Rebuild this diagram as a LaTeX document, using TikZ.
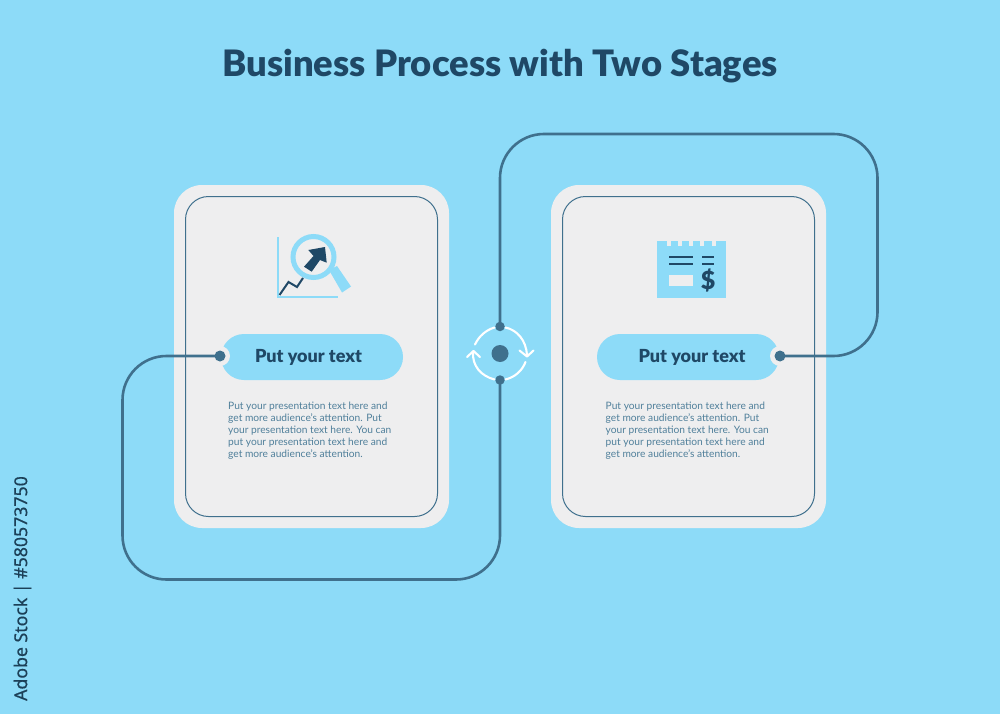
\documentclass[tikz,border=0pt]{standalone}
\usepackage{fontspec}
\setmainfont{Lato}
\newfontfamily\heavyfont{Lato Black}
\newfontfamily\stockfont[FakeBold=0.6]{Noto Sans}
\definecolor{bgblue}{HTML}{8DDBF8}
\definecolor{cardgrey}{HTML}{EEEEEF}
\definecolor{linkblue}{HTML}{3F708D}
\definecolor{darkblue}{HTML}{1F4866}
\definecolor{bodyblue}{HTML}{4F7F9A}
\definecolor{stockink}{HTML}{1C4058}
\tikzset{
  cardouter/.style={fill=cardgrey,rounded corners=28pt,minimum width=275pt,minimum height=343pt,inner sep=0pt,anchor=center},
  cardinner/.style={draw=linkblue,line width=1pt,rounded corners=23pt,minimum width=252pt,minimum height=320pt,inner sep=0pt,anchor=center},
  pill/.style={fill=bgblue,rounded corners=23pt,minimum width=182pt,minimum height=46pt,inner sep=0pt},
  pilltext/.style={font=\heavyfont\fontsize{18}{20}\selectfont,text=darkblue,inner sep=0pt},
  halo/.style={circle,fill=cardgrey,minimum size=20pt,inner sep=0pt},
  dotnode/.style={circle,fill=linkblue,minimum size=11pt,inner sep=0pt},
  link/.style={draw=linkblue,line width=2.6pt,rounded corners=44pt},
  body/.style={align=left,anchor=north west,inner sep=0pt,text=bodyblue,font=\fontsize{10.2}{12}\selectfont},
  ring/.style={draw=white,line width=2.1pt,line cap=round,line join=round},
  lightline/.style={draw=bgblue,line width=2pt},
  darkline/.style={draw=darkblue,line width=2.4pt},
}
\begin{document}
\begin{tikzpicture}[x=1pt,y=-1pt]
\path[use as bounding box,fill=bgblue] (0,0) rectangle (1000,714);
% title and stock id
\node[font=\heavyfont\fontsize{36.4}{40}\selectfont,text=darkblue,inner sep=0pt] (title) at (500,66) {Business Process with Two Stages};
\node[rotate=90,font=\stockfont\fontsize{17.7}{20}\selectfont,text=stockink,inner sep=0pt] (stock) at (22.5,588.5) {Adobe Stock | \#580573750};
% cards
\node[cardouter] (cardL) at (311.5,356.5) {};
\node[cardinner] (innerL) at (311.5,356.5) {};
\node[cardouter] (cardR) at (688.5,356.5) {};
\node[cardinner] (innerR) at (688.5,356.5) {};
% pills
\node[pill] (pillL) at (312,357) {};
\node[pill] (pillR) at (688,357) {};
\node[pilltext] (pillLtext) at (308.5,357) {Put your text};
\node[pilltext] (pillRtext) at (692,357) {Put your text};
\node[halo] (haloL) at (220,356) {};
\node[halo] (haloR) at (780,356) {};
% body text
\node[body] (bodyL) at (228,402) {Put your presentation text here and\\get more audience's attention. Put\\your presentation text here. You can\\put your presentation text here and\\get more audience's attention.};
\node[body] (bodyR) at (605.5,402) {Put your presentation text here and\\get more audience's attention. Put\\your presentation text here. You can\\put your presentation text here and\\get more audience's attention.};
% connector end points
\node[dotnode] (dotL) at (220,356) {};
\node[dotnode] (dotR) at (780,356) {};
\node[dotnode,minimum size=9.5pt] (dotTop) at (500,326.5) {};
\node[dotnode,minimum size=9.5pt] (dotBot) at (500,380) {};
\node[circle,fill=linkblue,minimum size=17pt,inner sep=0pt] (hub) at (500,353.5) {};
\coordinate (a1) at (122.5,356);
\coordinate (a2) at (122.5,579.5);
\coordinate (a3) at (500,579.5);
\coordinate (b1) at (500,134);
\coordinate (b2) at (877.5,134);
\coordinate (b3) at (877.5,356);
\draw[link] (dotL.center) -- (a1) -- (a2) -- (a3) -- (dotBot.center);
\draw[link] (dotTop.center) -- (b1) -- (b2) -- (b3) -- (dotR.center);
% cycle ring
\draw[ring] (505.5,327.5) .. controls (517,330) and (526,340) .. (527,355);
\draw[ring] (519.5,350.5) -- (527,356.5) -- (533.5,350.5);
\draw[ring] (525.5,362) .. controls (522,371) and (515,377) .. (505.5,379.5);
\draw[ring] (494.5,379.5) .. controls (481,376) and (472,366) .. (473,351.5);
\draw[ring] (467,357) -- (473.5,351) -- (480,357);
\draw[ring] (475,344.5) .. controls (479,336) and (486,330) .. (494.5,327.5);
% chart icon
\draw[lightline,line width=2.2pt] (278,237) -- (278,297) -- (338,297);
\fill[bgblue] (329,270) -- (337,266) -- (351,286.5) -- (342,292.5) -- cycle;
\draw[darkline,line width=2pt,line join=miter] (279.5,295) -- (288.5,282) -- (297,287) -- (303,278);
\draw[draw=bgblue,fill=cardgrey,line width=5pt] (313.5,257) circle[radius=20.5];
\fill[darkblue] (325,247) -- (308.3,250) -- (313.5,256) -- (304,266.7) -- (311.7,271.7) -- (320,260) -- (326.7,262.7) -- cycle;
% receipt icon
\fill[bgblue] (657,241) rectangle (726,298);
\foreach \nx in {668.5,680,691,702,713.5}{
  \fill[cardgrey] (\nx-2,240.5) rectangle (\nx+2,245.5);
}
\draw[darkline] (669,257) -- (693,257);
\draw[darkline] (669,264) -- (693,264);
\draw[darkline] (702,257) -- (714,257);
\draw[darkline] (702,264) -- (714,264);
\fill[cardgrey] (669,275) rectangle (693,286);
\node[font=\heavyfont\fontsize{25}{27}\selectfont,text=darkblue,inner sep=0pt] (dollar) at (708,280.5) {\$};
\end{tikzpicture}
\end{document}
